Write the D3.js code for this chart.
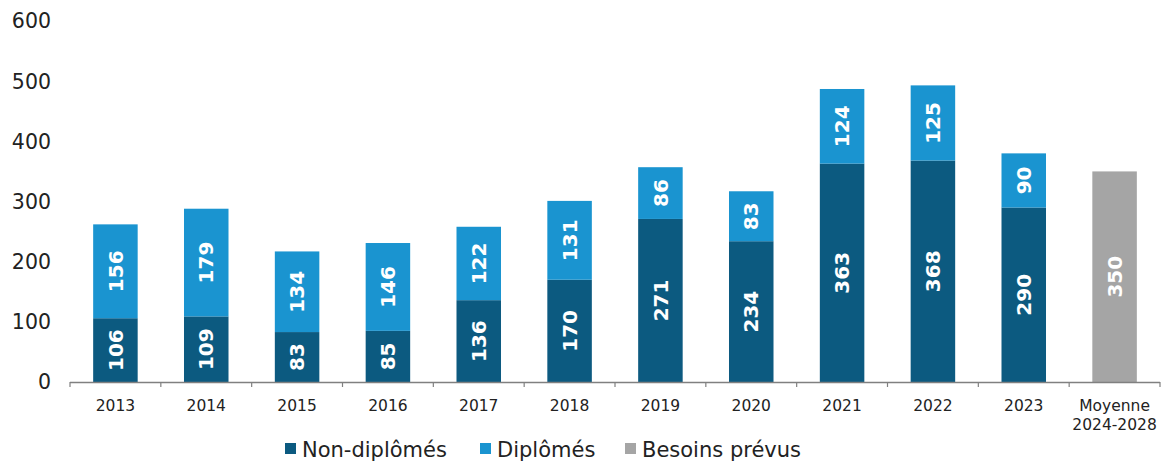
<!DOCTYPE html>
<html lang="fr">
<head>
<meta charset="utf-8">
<script src="https://cdn.jsdelivr.net/npm/d3@7"></script>
<style>
  body { margin: 0; background: #fff; }
  text { font-family: "DejaVu Sans", Verdana, sans-serif; }
</style>
</head>
<body>
<div id="chart"></div>
<script>
// data
var categories = ["2013","2014","2015","2016","2017","2018","2019","2020","2021","2022","2023","Moyenne\n2024-2028"];
var nonDiplomes = [106,109,83,85,136,170,271,234,363,368,290,null];
var diplomes = [156,179,134,146,122,131,86,83,124,125,90,null];
var besoins = [null,null,null,null,null,null,null,null,null,null,null,350];
var yTicks = [0,100,200,300,400,500,600];

var w = 1164, h = 462;
var colors = {dark: "#0c5a80", light: "#1a94d0", gray: "#a5a5a5"};

var svg = d3.select("#chart").append("svg")
  .attr("width", w).attr("height", h);

var x = d3.scaleBand().domain(categories).range([70, 1160]).paddingInner(0.51).paddingOuter(0.255);
var y = d3.scaleLinear().domain([0, 600]).range([382, 21]);

// y labels (no axis line)
svg.selectAll(".ylab").data(yTicks).enter().append("text")
  .attr("x", 51).attr("y", function(d){ return y(d); })
  .attr("dy", "0.36em").attr("text-anchor", "end")
  .attr("font-size", 20.5).attr("fill", "#222")
  .text(function(d){ return d; });

// bars
var rows = categories.map(function(c, i){
  return {cat: c, nd: nonDiplomes[i], d: diplomes[i], b: besoins[i]};
});

function segment(cls, y0f, y1f, color, valf){
  var g = svg.selectAll("." + cls).data(rows.filter(function(r){ return valf(r) != null; }))
    .enter().append("g").attr("class", cls);
  g.append("rect")
    .attr("x", function(r){ return x(r.cat); })
    .attr("width", x.bandwidth())
    .attr("y", function(r){ return y(y1f(r)); })
    .attr("height", function(r){ return y(y0f(r)) - y(y1f(r)); })
    .attr("fill", color);
  g.append("text")
    .attr("transform", function(r){
      var cx = x(r.cat) + x.bandwidth() / 2;
      var cy = (y(y0f(r)) + y(y1f(r))) / 2;
      return "translate(" + cx + "," + cy + ") rotate(-90)";
    })
    .attr("text-anchor", "middle").attr("dy", "0.36em")
    .attr("font-size", 20).attr("font-weight", "bold").attr("fill", "#fff")
    .text(valf);
}
segment("nd", function(){ return 0; }, function(r){ return r.nd; }, colors.dark, function(r){ return r.nd; });
segment("dp", function(r){ return r.nd; }, function(r){ return r.nd + r.d; }, colors.light, function(r){ return r.d; });
segment("bs", function(){ return 0; }, function(r){ return r.b; }, colors.gray, function(r){ return r.b; });

// x axis
var step = x.step();
svg.append("line").attr("x1", 70).attr("x2", 1160).attr("y1", 382.5).attr("y2", 382.5)
  .attr("stroke", "#808080").attr("stroke-width", 1.5);
d3.range(categories.length + 1).forEach(function(i){
  var tx = 70 + i * step;
  svg.append("line").attr("x1", tx).attr("x2", tx).attr("y1", 382).attr("y2", 387)
    .attr("stroke", "#808080").attr("stroke-width", 1.2);
});
categories.forEach(function(c){
  var lines = c.split("\n");
  var t = svg.append("text").attr("text-anchor", "middle")
    .attr("font-size", 15.5).attr("fill", "#222");
  lines.forEach(function(l, j){
    t.append("tspan").attr("x", x(c) + x.bandwidth() / 2).attr("y", 411 + j * 19).text(l);
  });
});

// legend
var legend = [
  {name: "Non-diplômés", color: colors.dark, x: 285},
  {name: "Diplômés", color: colors.light, x: 480},
  {name: "Besoins prévus", color: colors.gray, x: 625}
];
var lg = svg.selectAll(".lg").data(legend).enter().append("g");
lg.append("rect").attr("x", function(d){ return d.x; }).attr("y", 443)
  .attr("width", 11).attr("height", 11).attr("fill", function(d){ return d.color; });
lg.append("text").attr("x", function(d){ return d.x + 17; }).attr("y", 457)
  .attr("font-size", 21).attr("fill", "#222")
  .text(function(d){ return d.name; });
</script>
</body>
</html>
